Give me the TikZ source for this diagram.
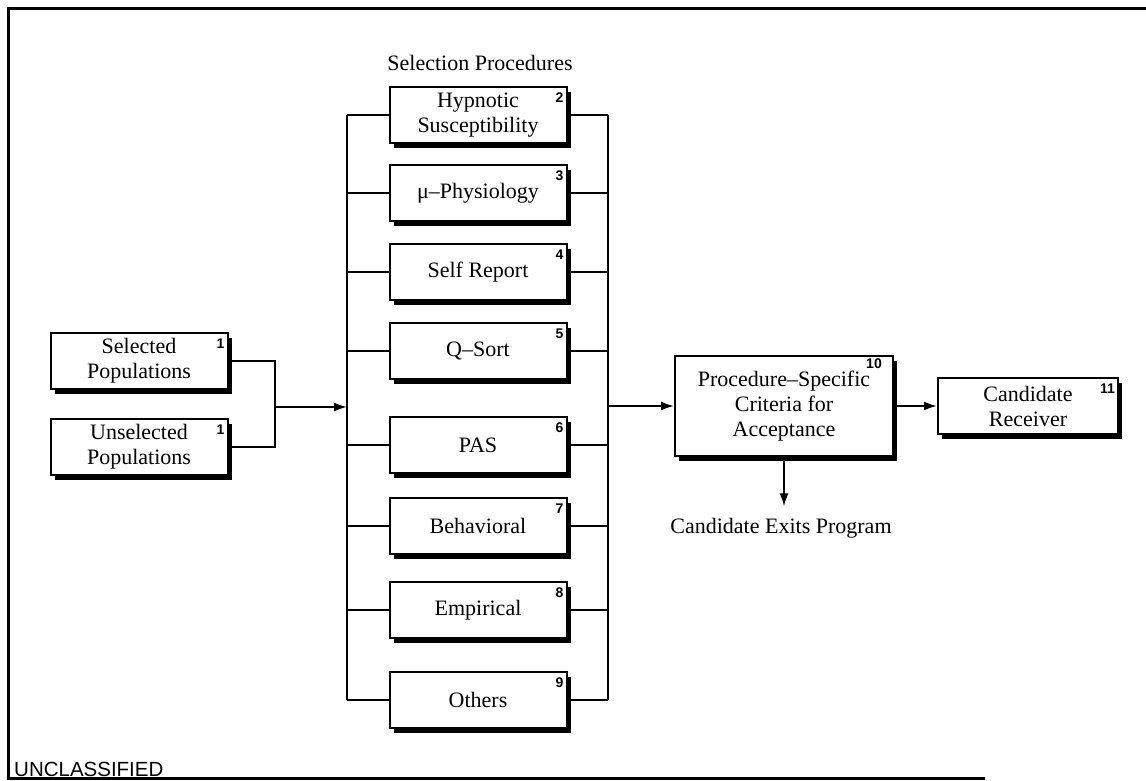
\documentclass[tikz,border=0pt]{standalone}
\usepackage{fontspec}
\setmainfont{Liberation Serif}
\newfontfamily\numfont{Liberation Sans}
\usetikzlibrary{calc,arrows.meta,shadows,positioning}

\begin{document}
\begin{tikzpicture}[x=1pt,y=-1pt,
  procbox/.style={draw, line width=2pt, fill=white, minimum width=177pt,
    minimum height=56pt, align=center, inner sep=2pt,
    font=\fontsize{22}{25}\selectfont,
    drop shadow={shadow xshift=4pt,shadow yshift=-5pt,fill=black,opacity=1}},
  numlbl/.style={anchor=north east, inner sep=0pt, xshift=-4pt, yshift=-7pt,
    font=\numfont\bfseries\fontsize{14}{14}\selectfont},
  arr/.style={-{Latex[length=13pt,width=9pt]}},
  wire/.style={line width=2pt}]

\useasboundingbox (0,0) rectangle (1146,781);

% frame
\draw[line width=3pt] (1146,9) -- (8,9) -- (8,778) -- (985,778);
\node[anchor=base west, inner sep=0pt, font=\numfont\fontsize{20.5}{20.5}\selectfont] (uncl) at (14,776) {UNCLASSIFIED};

\node[font=\fontsize{22}{25}\selectfont] (title) at (480,63) {Selection Procedures};

% selection procedures
\foreach \n/\yy/\txt in {2/115/{Hypnotic\\Susceptibility},3/193/{μ–Physiology},
    4/272/{Self Report},5/351/{Q–Sort},6/445/{PAS},7/526/{Behavioral},
    8/610/{Empirical},9/700/{Others}}{
  \node[procbox, label={[numlbl]north east:\n}] (p\n) at (478,\yy) {\txt};
  \coordinate (l\n) at (347,\yy);
  \coordinate (r\n) at (608,\yy);
  \draw[wire] (l\n) -- (p\n.west);
  \draw[wire] (p\n.east) -- (r\n);
}
\draw[wire] (l2) -- (l9);
\draw[wire] (r2) -- (r9);

% populations
\node[procbox, label={[numlbl]north east:1}] (sel) at (139,361) {Selected\\Populations};
\node[procbox, label={[numlbl]north east:1}] (unsel) at (139,447) {Unselected\\Populations};

\coordinate (mj) at (275,407);
\draw[wire] (sel.east) -| (mj) |- (unsel.east);
\draw[wire,arr] (mj) -- (mj -| l2);

% criteria and receiver
\node[procbox, minimum width=218pt, minimum height=100pt,
  label={[numlbl, xshift=-8pt, yshift=3pt]north east:10}] (crit) at (784,406)
  {Procedure–Specific\\Criteria for\\Acceptance};
\coordinate (rj) at (608,406);
\draw[wire,arr] (rj) -- (crit.west);

\node[procbox, minimum width=180pt, label={[numlbl]north east:11}] (recv) at (1028,406) {Candidate\\Receiver};
\draw[wire,arr] (crit.east) -- (recv.west);

\node[font=\fontsize{22}{25}\selectfont] (exit) at (781,528) {Candidate Exits Program};
\draw[wire,arr,shorten >=8pt] (crit.south) -- (crit.south |- exit.north);

\end{tikzpicture}
\end{document}
